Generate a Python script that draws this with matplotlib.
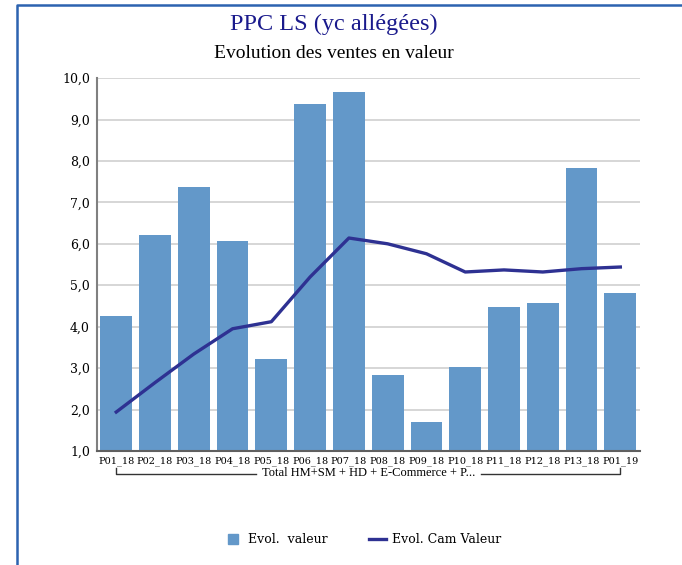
import matplotlib
matplotlib.use('Agg')
from matplotlib import pyplot as plt
from matplotlib.lines import Line2D
import matplotlib.transforms as mtrans

periodes = ['P01_18', 'P02_18', 'P03_18', 'P04_18', 'P05_18', 'P06_18', 'P07_18',
            'P08_18', 'P09_18', 'P10_18', 'P11_18', 'P12_18', 'P13_18', 'P01_19']
evol_valeur = [4.26, 6.22, 7.38, 6.07, 3.22, 9.38, 9.67, 2.84, 1.70, 3.03, 4.48, 4.57, 7.84, 4.82]
evol_cam = [1.94, 2.65, 3.34, 3.95, 4.12, 5.20, 6.14, 6.00, 5.76, 5.32, 5.37, 5.32, 5.40, 5.44]
groupe = 'Total HM+SM + HD + E-Commerce + P...'

plt.rcParams['font.family'] = ['Liberation Serif', 'DejaVu Serif']
serif2 = ['DejaVu Serif']

fig = plt.figure(figsize=(6.82, 5.65), dpi=100)
ax = fig.add_axes([0.142, 0.2018, 0.796, 0.66])

# cadre bleu (seulement haut et gauche visibles)
fig.lines.append(Line2D([0.025, 0.025, 1.0], [0.0, 0.991, 0.991], transform=fig.transFigure,
                        color='#2c63b0', linewidth=1.8))

x = list(range(len(periodes)))
ax.bar(x, [v - 1 for v in evol_valeur], bottom=1, width=0.82, color='#6398c9', zorder=2)
ax.plot(x, evol_cam, color='#2e3192', linewidth=2.4, zorder=3)

ax.set_ylim(1, 10)
ax.set_xlim(-0.5, len(periodes) - 0.5)
ax.set_yticks([1, 2, 3, 4, 5, 6, 7, 8, 9, 10])
ax.set_yticklabels(['{:.1f}'.format(v).replace('.', ',') for v in range(1, 11)], fontsize=9, family=serif2)
ax.set_xticks(x)
ax.set_xticklabels(periodes, fontsize=7, family=serif2)
ax.tick_params(axis='x', length=0, pad=4)
ax.tick_params(axis='y', length=0, pad=5)
ax.yaxis.grid(True, color='#d0d0d0', linewidth=1.2, zorder=0)
ax.set_axisbelow(True)
for s in ['top', 'right']:
    ax.spines[s].set_visible(False)
ax.spines['left'].set_color('#808080')
ax.spines['left'].set_linewidth(1.5)
ax.spines['bottom'].set_color('#606060')
ax.spines['bottom'].set_linewidth(1.5)

# accolade du groupe sous les etiquettes
tr = mtrans.blended_transform_factory(ax.transData, ax.transAxes)
ax.plot([0, 0, 3.6], [-0.045, -0.062, -0.062], color='#333333', linewidth=1, transform=tr, clip_on=False)
ax.plot([9.4, 13, 13], [-0.062, -0.062, -0.045], color='#333333', linewidth=1, transform=tr, clip_on=False)
ax.text(6.5, -0.06, groupe, transform=tr, ha='center', va='center', fontsize=9)

fig.text(0.49, 0.957, 'PPC LS (yc allégées)', ha='center', va='center', fontsize=17.5, color='#1a1a8c')
fig.text(0.49, 0.905, 'Evolution des ventes en valeur', ha='center', va='center', fontsize=14)

handles = [Line2D([], [], linestyle='none', marker='s', markersize=7, color='#6398c9'),
           Line2D([], [], color='#2e3192', linewidth=2.4)]
fig.legend(handles, ['Evol.  valeur', 'Evol. Cam Valeur'], loc='center', bbox_to_anchor=(0.532, 0.045),
           ncol=2, frameon=False, prop={'family': serif2, 'size': 9},
           handlelength=1.35, handletextpad=0.5, columnspacing=3.3)

plt.savefig('out.png')
